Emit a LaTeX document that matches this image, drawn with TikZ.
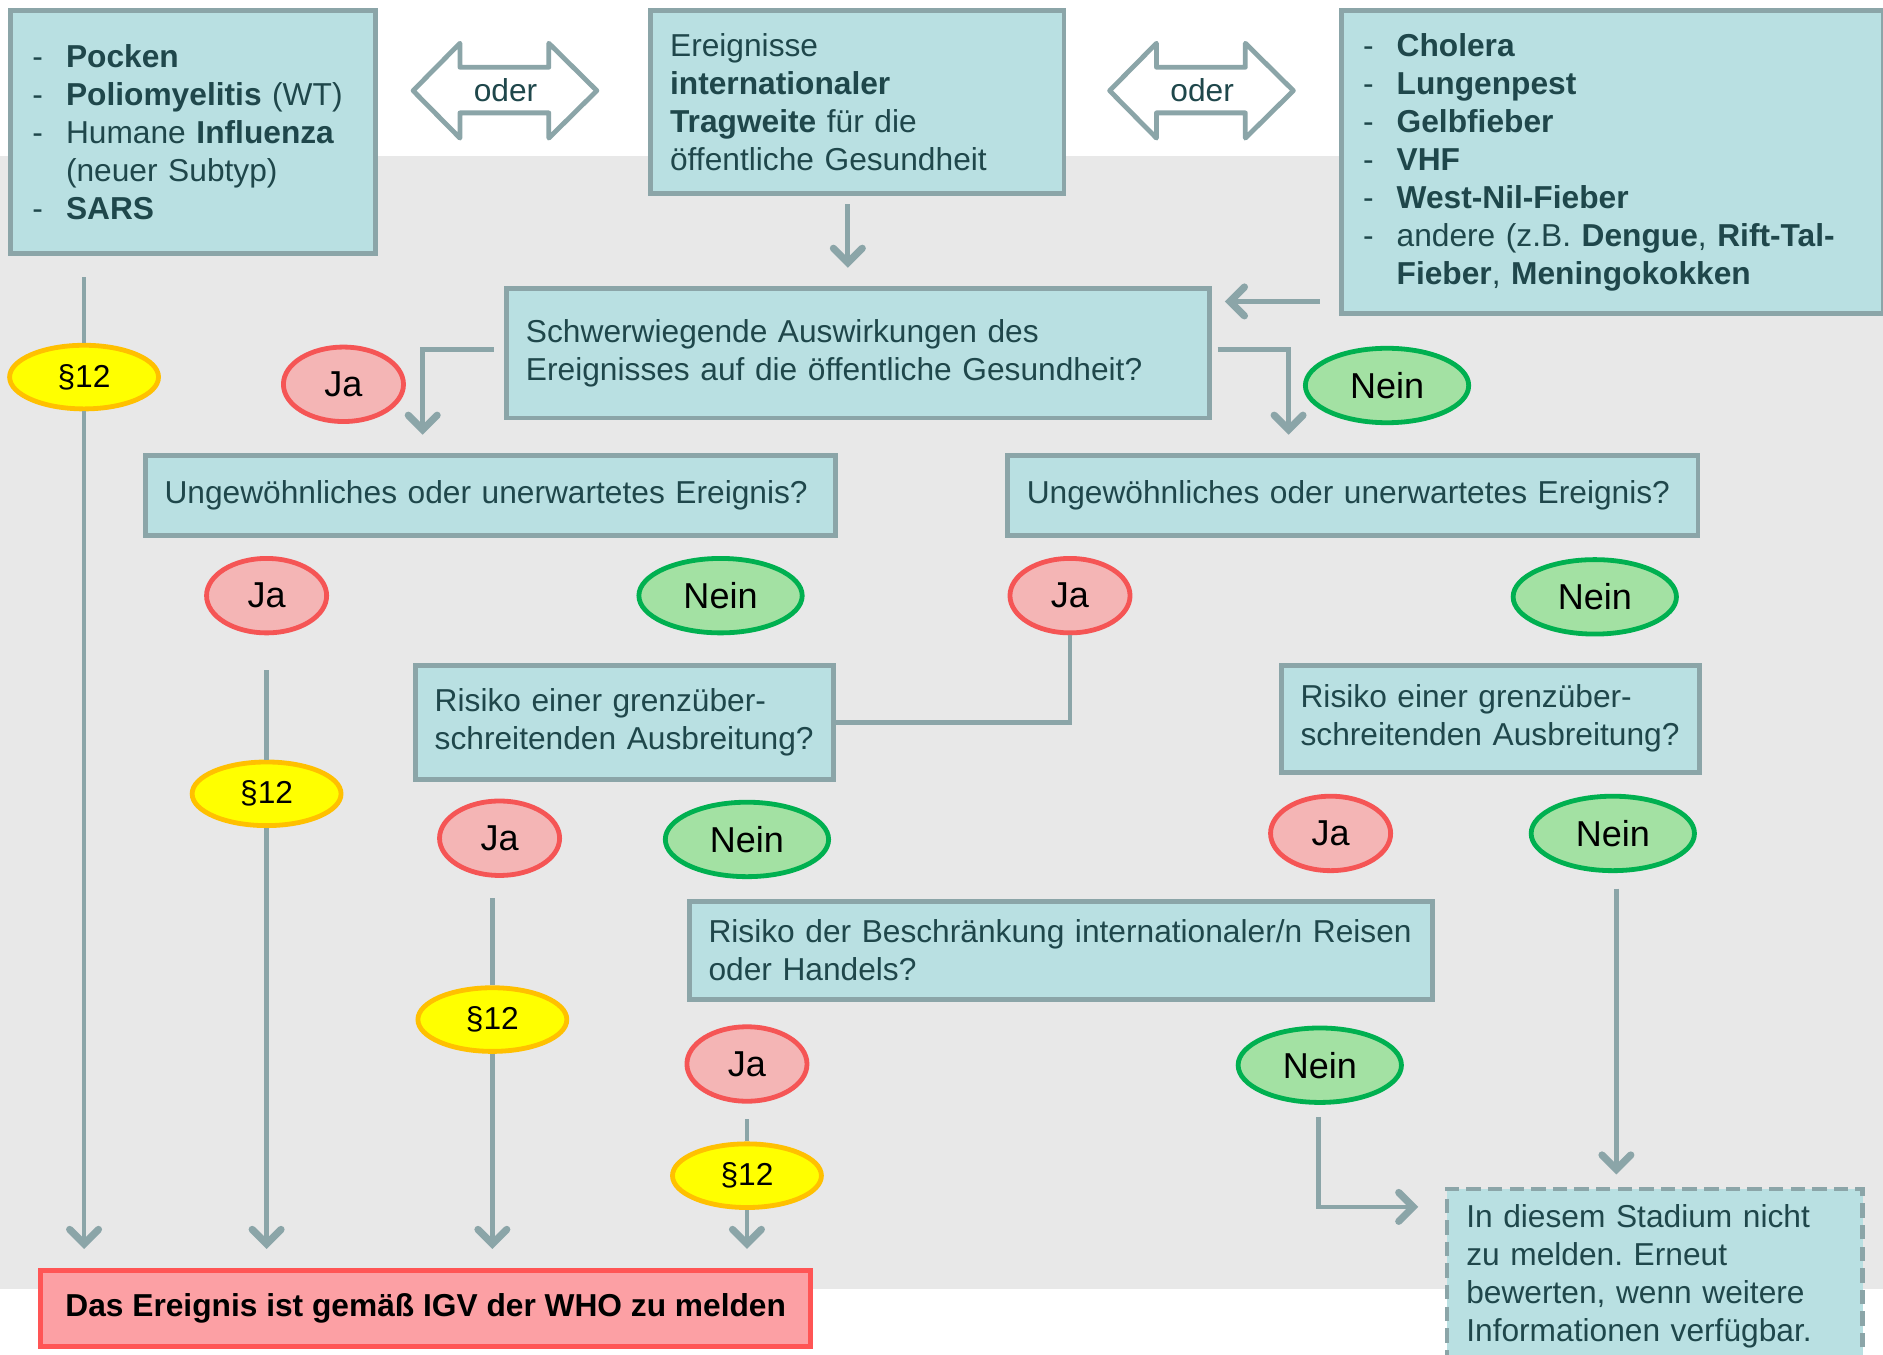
\documentclass[tikz,border=0pt]{standalone}
\usepackage{fontspec}
\setmainfont{Liberation Sans}
\usetikzlibrary{arrows.meta,shapes.geometric}
\definecolor{bandgray}{HTML}{E8E8E8}
\definecolor{boxfill}{HTML}{B9E0E2}
\definecolor{linegray}{HTML}{8BA5A8}
\definecolor{txtcol}{HTML}{1F474B}
\definecolor{jafill}{HTML}{F4B5B5}
\definecolor{jaline}{HTML}{F55555}
\definecolor{neinfill}{HTML}{A3E1A3}
\definecolor{neinline}{HTML}{00B050}
\definecolor{parfill}{HTML}{FFFF00}
\definecolor{parline}{HTML}{FFC000}
\definecolor{redfill}{HTML}{FCA0A4}
\definecolor{redline}{HTML}{FF5555}
\newcommand{\itm}{\makebox[30pt][l]{\hspace{2pt}-}}
\newcommand{\indt}{\hspace*{30pt}}
\frenchspacing
\begin{document}
\begin{tikzpicture}[x=1pt,y=-1pt,
  every node/.style={font=\fontsize{26.4}{31.7}\selectfont},
  infobox/.style={rectangle, draw=linegray, fill=boxfill, line width=4pt, text=txtcol,
    align=left, inner xsep=16pt, inner ysep=0pt, anchor=north west},
  ja/.style={ellipse, draw=jaline, fill=jafill, line width=4pt, minimum width=100pt,
    minimum height=62pt, inner sep=0pt, text=black, font=\fontsize{30}{36}\selectfont},
  nein/.style={ellipse, draw=neinline, fill=neinfill, line width=4pt, minimum width=136pt,
    minimum height=62pt, inner sep=0pt, text=black, font=\fontsize{30}{36}\selectfont},
  par/.style={ellipse, draw=parline, fill=parfill, line width=4pt, minimum width=124pt,
    minimum height=53pt, inner sep=0pt, text=black},
  conn/.style={draw=linegray, line width=4pt, line join=miter},
  arr/.style={conn, -{Straight Barb[length=12pt,width=24pt,line width=6pt 0,line cap=round]}},
  oderarrow/.style={draw=linegray, line width=4pt, fill=white, line join=round}
]
\useasboundingbox (0,0) rectangle (1568,1128);
\fill[white] (0,0) rectangle (1568,1128);
\fill[bandgray] (0,130) rectangle (1568,1073);

% top row
\node[infobox, text width=272pt, minimum height=202pt] (liste1) at (7,7)
  {\itm\textbf{Pocken}\\ \itm\textbf{Poliomyelitis} (WT)\\ \itm Humane \textbf{Influenza}\\ \indt(neuer Subtyp)\\ \itm\textbf{SARS}};
\node[infobox, text width=312pt, minimum height=152pt] (ereig) at (540,7)
  {Ereignisse\\ \textbf{internationaler}\\ \textbf{Tragweite} für die\\ öffentliche Gesundheit};
\node[infobox, text width=419pt, minimum height=252pt] (liste2) at (1115,7)
  {\itm\textbf{Cholera}\\ \itm\textbf{Lungenpest}\\ \itm\textbf{Gelbfieber}\\ \itm\textbf{VHF}\\ \itm\textbf{West-Nil-Fieber}\\ \itm andere (z.B. \textbf{Dengue}, \textbf{Rift-Tal-}\\ \indt\textbf{Fieber}, \textbf{Meningokokken}};

\draw[oderarrow] (344,75.5) -- (383,36) -- (383,56) -- (457,56) -- (457,36) -- (497,75.5)
  -- (457,115) -- (457,94) -- (383,94) -- (383,115) -- cycle;
\node[text=txtcol] (oder1) at (421,75) {oder};
\draw[oderarrow] (924,75.5) -- (963,36) -- (963,56) -- (1037,56) -- (1037,36) -- (1077,75.5)
  -- (1037,115) -- (1037,94) -- (963,94) -- (963,115) -- cycle;
\node[text=txtcol] (oder2) at (1001,75) {oder};

% question boxes
\node[infobox, text width=553pt, minimum height=108pt] (schwer) at (420,238)
  {Schwerwiegende Auswirkungen des\\ Ereignisses auf die öffentliche Gesundheit?};
\node[infobox, text width=543pt, minimum height=67pt] (ungewL) at (119,377)
  {Ungewöhnliches oder unerwartetes Ereignis?};
\node[infobox, text width=543pt, minimum height=67pt] (ungewR) at (837,377)
  {Ungewöhnliches oder unerwartetes Ereignis?};
\node[infobox, text width=316pt, minimum height=95pt] (risikoL) at (344,552)
  {Risiko einer grenzüber-\\ schreitenden Ausbreitung?};
\node[infobox, text width=316pt, minimum height=89pt] (risikoR) at (1065,552)
  {Risiko einer grenzüber-\\ schreitenden Ausbreitung?};
\node[infobox, text width=587pt, minimum height=81pt] (reisen) at (572,749)
  {Risiko der Beschränkung internationaler/n Reisen\\ oder Handels?};
\node[infobox, dashed, dash pattern=on 12pt off 6pt, text width=314pt, minimum height=146pt] (stadium) at (1203,988)
  {In diesem Stadium nicht\\ zu melden. Erneut\\ bewerten, wenn weitere\\ Informationen verfügbar.};
\node[rectangle, draw=redline, fill=redfill, line width=4pt, text=black, anchor=north west,
  minimum width=641pt, minimum height=63pt, inner sep=0pt, font=\fontsize{26.4}{31.7}\selectfont\bfseries] (melden) at (32,1056)
  {Das Ereignis ist gemäß IGV der WHO zu melden};

% answer ellipses
\node[ja] (jaA) at (286,320) {Ja};
\node[nein] (neinA) at (1155,321) {Nein};
\node[ja] (jaB) at (222,496) {Ja};
\node[nein] (neinB) at (600,496) {Nein};
\node[ja] (jaC) at (891,496) {Ja};
\node[nein] (neinC) at (1328,497) {Nein};
\node[ja] (jaD) at (416,698) {Ja};
\node[nein] (neinD) at (622,699) {Nein};
\node[ja] (jaE) at (1108,694) {Ja};
\node[nein] (neinE) at (1343,694) {Nein};
\node[ja] (jaF) at (622,886) {Ja};
\node[nein] (neinF) at (1099,887) {Nein};

\node[par] (pA) at (70,314) {§12};
\node[par] (pB) at (222,661) {§12};
\node[par] (pC) at (410,849) {§12};
\node[par] (pD) at (622,979) {§12};

% free connector ends
\coordinate (c1s) at (70,231);
\coordinate (c2s) at (706,170);
\coordinate (c2e) at (706,223);
\coordinate (c3s) at (1099,251);
\coordinate (c3e) at (1020,251);
\coordinate (c4s) at (411,291);
\coordinate (c4e) at (352,362);
\coordinate (c5s) at (1014,291);
\coordinate (c5e) at (1073,362);
\coordinate (c6s) at (222,558);
\coordinate (c8s) at (410,748);
\coordinate (c9s) at (1346,740);
\coordinate (c9e) at (1346,978);
\coordinate (c10s) at (622,932);
\coordinate (c11s) at (1098,930);
\coordinate (c11e) at (1181,1005);
\coordinate (t1) at (70,1040);
\coordinate (t2) at (222,1040);
\coordinate (t3) at (410,1040);
\coordinate (t4) at (622,1040);

% connectors
\draw[conn] (c1s) -- (pA.north);
\draw[arr] (pA.south) -- (t1);
\draw[arr] (c2s) -- (c2e);
\draw[arr] (c3s) -- (c3e);
\draw[arr] (c4s) -| (c4e);
\draw[arr] (c5s) -| (c5e);
\draw[conn] (c6s) -- (pB.north);
\draw[arr] (pB.south) -- (t2);
\draw[conn] (jaC.south) |- (risikoL.east);
\draw[conn] (c8s) -- (pC.north);
\draw[arr] (pC.south) -- (t3);
\draw[arr] (c9s) -- (c9e);
\draw[conn] (c10s) -- (pD.north);
\draw[arr] (pD.south) -- (t4);
\draw[arr] (c11s) |- (c11e);
\end{tikzpicture}
\end{document}
